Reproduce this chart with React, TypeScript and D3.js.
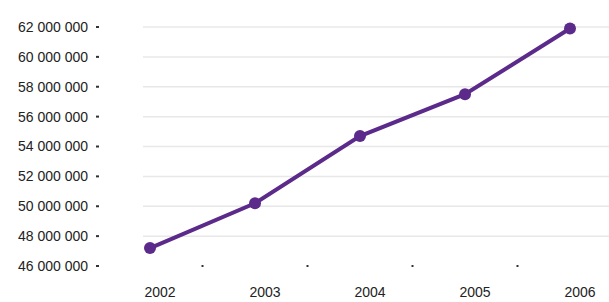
import * as d3 from "d3";
import { useEffect, useRef } from "react";

const years = ["2002", "2003", "2004", "2005", "2006"];
const values = [47200000, 50200000, 54700000, 57500000, 61900000];
const yTicks = [46000000, 48000000, 50000000, 52000000, 54000000, 56000000, 58000000, 60000000, 62000000];

function LineChartFc(container: HTMLElement) {
  const width = 609;
  const height = 302;
  const svg = d3.select(container)
    .append("svg")
    .attr("width", width)
    .attr("height", height)
    .style("display", "block")
    .style("background", "#fff");

  const x = d3.scalePoint<string>().domain(years).range([150, 570]);
  const y = d3.scaleLinear().domain([46000000, 62000000]).range([266, 27]);
  const fmt = (v: number) => d3.format(",")(v).replace(/,/g, " ");

  // grid
  svg.append("g")
    .selectAll("line")
    .data(yTicks.slice(1))
    .join("line")
    .attr("x1", 143)
    .attr("x2", 609)
    .attr("y1", d => y(d))
    .attr("y2", d => y(d))
    .attr("stroke", "#e8e8e8")
    .attr("stroke-width", 1.5);

  // y labels
  const yl = svg.append("g").attr("font-family", "Arial, Liberation Sans, sans-serif").attr("font-size", 14).attr("fill", "#222");
  yl.selectAll("text")
    .data(yTicks)
    .join("text")
    .attr("x", 88)
    .attr("y", d => y(d))
    .attr("dy", "0.35em")
    .attr("text-anchor", "end")
    .text(d => fmt(d));
  yl.selectAll("rect")
    .data(yTicks)
    .join("rect")
    .attr("x", 96)
    .attr("y", d => y(d) - 1)
    .attr("width", 3)
    .attr("height", 2)
    .attr("fill", "#333");

  // x tick dots at band boundaries
  const step = x.step();
  svg.append("g")
    .selectAll("rect")
    .data(years.slice(1))
    .join("rect")
    .attr("x", d => x(d)! - step / 2 - 1)
    .attr("y", 265)
    .attr("width", 2)
    .attr("height", 2)
    .attr("fill", "#333");

  // x labels
  svg.append("g")
    .attr("font-family", "Arial, Liberation Sans, sans-serif")
    .attr("font-size", 14)
    .attr("fill", "#222")
    .selectAll("text")
    .data(years)
    .join("text")
    .attr("x", d => x(d)! + 10)
    .attr("y", 297)
    .attr("text-anchor", "middle")
    .text(d => d);

  const color = "#5b2a8a";
  const line = d3.line<number>()
    .x((_, i) => x(years[i])!)
    .y(d => y(d));
  svg.append("path")
    .datum(values)
    .attr("d", line)
    .attr("fill", "none")
    .attr("stroke", color)
    .attr("stroke-width", 4);
  svg.append("g")
    .selectAll("circle")
    .data(values)
    .join("circle")
    .attr("cx", (_, i) => x(years[i])!)
    .attr("cy", d => y(d))
    .attr("r", 6)
    .attr("fill", color);
}

export default function App() {
  const domRef = useRef<HTMLDivElement>(null);
  useEffect(() => {
    if (domRef.current) {
      LineChartFc(domRef.current);
    }
    return () => {
      if (domRef.current) {
        d3.select(domRef.current).selectAll("svg").remove();
      }
    };
  }, []);
  return <div ref={domRef} style={{ position: "absolute", left: 0, top: 0 }}></div>;
}
